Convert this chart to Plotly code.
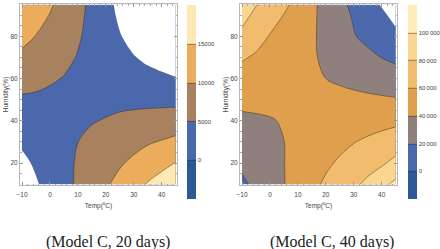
import plotly.graph_objects as go

# ---------------- data ----------------
temp = [-10, -5, 0, 5, 10, 15, 20, 25, 30, 35, 40, 45]
humidity = [10, 20, 30, 40, 50, 60, 70, 80, 90, 95]

# Model C, 20 days  (rows = humidity, cols = temp)
z_20days = [
    [-2500, -350, 1720, 3670, 5610, 7480, 9430, 11400, 13400, 15300, 17000, 19200],
    [-1000, 750, 2220, 3860, 5400, 6760, 8110, 9480, 10940, 12430, 13650, 15160],
    [830, 2000, 2900, 3940, 4980, 5930, 6870, 7550, 8520, 9550, 10300, 11130],
    [2630, 3200, 3490, 3920, 4350, 4780, 5200, 5620, 6110, 6560, 6930, 7330],
    [4420, 4400, 4200, 4200, 4000, 4000, 4000, 4140, 4000, 3870, 3790, 3750],
    [6600, 6000, 5400, 4850, 4300, 3700, 3300, 2880, 2160, 1520, 1000, 370],
    [9000, 7940, 6900, 5880, 4800, 3700, 2800, 1620, 310, -820, -1800, -3000],
    [11300, 9880, 8350, 6890, 5400, 3900, 2400, 350, -1500, -3200, -4600, -6400],
    [13200, 11600, 9850, 7900, 5900, 4000, 2000, -700, -3300, -5500, -7400, -9800],
    [14000, 12400, 10500, 8400, 6200, 4000, 1700, -1100, -4000, -6600, -8800, -11500],
]

# Model C, 40 days
z_40days = [
    [16500, 23900, 31600, 39400, 47400, 55400, 62800, 69500, 76200, 84300, 94100, 105000],
    [23600, 28900, 34300, 39700, 45400, 51200, 57000, 62400, 67400, 72300, 77300, 85300],
    [30200, 33400, 36600, 39900, 43700, 47700, 51600, 55500, 59400, 62900, 66400, 69800],
    [36700, 37900, 39100, 41000, 43000, 44800, 46600, 48500, 50400, 52300, 54100, 56000],
    [44200, 44000, 43900, 45000, 46000, 46000, 45500, 44800, 44000, 43200, 42300, 41400],
    [52700, 51000, 49000, 47000, 45000, 42700, 40000, 37600, 35300, 33000, 30700, 28400],
    [61900, 57500, 53600, 49600, 45700, 41700, 37500, 33100, 28700, 24200, 19800, 16100],
    [75700, 67100, 59000, 53400, 47800, 42200, 35600, 28300, 21000, 15500, 10200, 4900],
    [86000, 75800, 67700, 59500, 51200, 43000, 34600, 26200, 18200, 11100, 4100, -5000],
    [91000, 80800, 72300, 63800, 54100, 43600, 33900, 24600, 15800, 7400, -1000, -10000],
]

ticks_20 = [0, 5000, 10000, 15000]
ticktext_20 = ["0", "5000", "10000", "15000"]
ticks_40 = [0, 20000, 40000, 60000, 80000, 100000]
ticktext_40 = ["0", "20\u2009000", "40\u2009000", "60\u2009000", "80\u2009000", "100\u2009000"]

subtitles = ["(Model C, 20 days)", "(Model C, 40 days)"]
x_title = "Temp(<sup>o</sup>C)"
y_title = "Humidity(%)"

# ---------------- styling ----------------
W, H = 440, 249
colors_20 = ["#2c5895", "#4c68ad", "#a8825e", "#ebad5c", "#fce9b4"]
colors_40 = ["#2c5895", "#4c69ae", "#8f807d", "#df9f4c", "#f2bc6f", "#fad690", "#fdebb8"]
FONT = "Liberation Sans"


def scale(cols):
    n = len(cols) - 1
    return [[i / n, c] for i, c in enumerate(cols)]


def px_x(p):
    return p / W


def px_y(p):
    return (H - p) / H


fig = go.Figure()

panels = [
    dict(z=z_20days, cols=colors_20, start=0, end=15000, size=5000, zmin=-5000, zmax=20000,
         tv=ticks_20, tt=ticktext_20, xa="x", ya="y", cbx=187),
    dict(z=z_40days, cols=colors_40, start=0, end=100000, size=20000, zmin=-20000, zmax=120000,
         tv=ticks_40, tt=ticktext_40, xa="x2", ya="y2", cbx=408),
]

for p in panels:
    fig.add_trace(go.Contour(
        x=temp, y=humidity, z=p["z"], xaxis=p["xa"], yaxis=p["ya"],
        autocontour=False,
        contours=dict(start=p["start"], end=p["end"], size=p["size"], coloring="fill", showlines=True),
        colorscale=scale(p["cols"]), zmin=p["zmin"], zmax=p["zmax"],
        line=dict(width=0.6, color="rgba(50,40,30,0.75)", smoothing=1.0),
        colorbar=dict(
            x=px_x(p["cbx"]), xanchor="left", xpad=0, xref="paper",
            y=px_y(199), yanchor="bottom", ypad=0, yref="paper",
            len=194, lenmode="pixels", thickness=9, thicknessmode="pixels",
            tickvals=p["tv"], ticktext=p["tt"], ticks="",
            tickfont=dict(size=6, color="#444", family=FONT),
            outlinewidth=0,
        ),
        hoverinfo="skip",
    ))
    # values below the plotted range are left blank (white)
    fig.add_trace(go.Contour(
        x=temp, y=humidity, z=p["z"], xaxis=p["xa"], yaxis=p["ya"],
        contours=dict(type="constraint", operation=">=", value=0),
        fillcolor="white", line=dict(width=1.2, color="white", smoothing=1.0),
        showscale=False, hoverinfo="skip",
    ))

axis_common = dict(
    showline=True, linecolor="#b8b8b8", linewidth=1, mirror="ticks",
    ticks="inside", ticklen=3, tickcolor="#999", tickwidth=0.6,
    tickfont=dict(size=6.5, color="#444", family=FONT),
    showgrid=False, zeroline=False,
)
title_font = dict(size=6.5, color="#444", family=FONT)
xr = [-10.72, 45.47]
yr = [9.6, 95.3]
xa_extra = dict(dtick=10, ticklabelstandoff=3,
                minor=dict(dtick=2, ticks="inside", ticklen=1.5, tickcolor="#aaa"),
                title=dict(text=x_title, font=title_font, standoff=6))
ya_extra = dict(dtick=20, tick0=0,
                minor=dict(dtick=5, ticks="inside", ticklen=1.5, tickcolor="#aaa"),
                title=dict(text=y_title, font=title_font, standoff=1))
fig.update_layout(
    width=W, height=H, margin=dict(l=0, r=0, t=0, b=0, autoexpand=False),
    paper_bgcolor="white", plot_bgcolor="white", showlegend=False,
    xaxis=dict(domain=[px_x(20), px_x(177)], range=xr, anchor="y", **xa_extra, **axis_common),
    yaxis=dict(domain=[px_y(185), px_y(4)], range=yr, anchor="x", **ya_extra, **axis_common),
    xaxis2=dict(domain=[px_x(240), px_x(397)], range=xr, anchor="y2", **xa_extra, **axis_common),
    yaxis2=dict(domain=[px_y(185), px_y(4)], range=yr, anchor="x2", **ya_extra, **axis_common),
)

for xc, txt in zip([108, 332], subtitles):
    fig.add_annotation(text=txt, x=px_x(xc), y=px_y(241.5), xref="paper", yref="paper",
                       xanchor="center", yanchor="middle", showarrow=False,
                       font=dict(size=16, color="#222", family="Liberation Serif"))

fig.write_html(
    "out.html",
    config={"displayModeBar": False},
    post_script="document.body.style.margin='0';document.body.style.padding='0';",
)
